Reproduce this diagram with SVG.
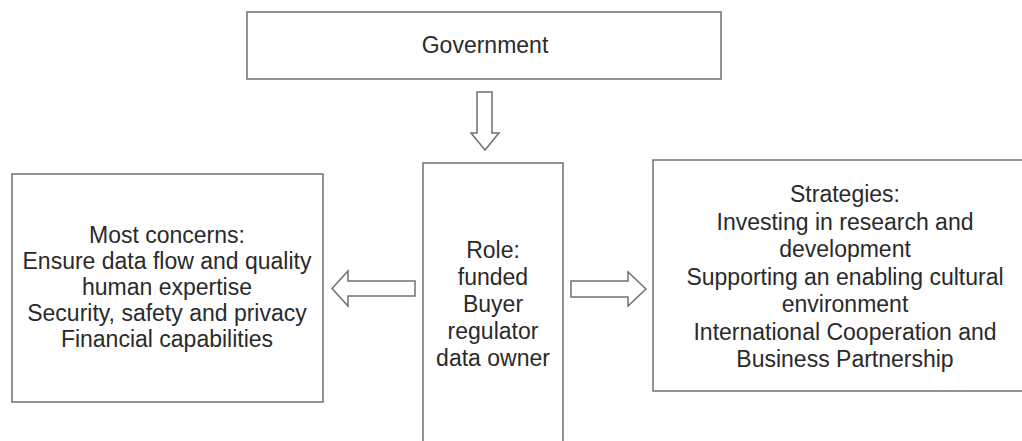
<svg xmlns="http://www.w3.org/2000/svg" width="1022" height="441" viewBox="0 0 1022 441">
<style>
.box{fill:#fff;stroke:#707070;stroke-width:1.5}
.arr{fill:#fff;stroke:#707070;stroke-width:1.5;stroke-linejoin:miter}
.t{font-family:"Liberation Sans",Arial,sans-serif;font-size:23px;fill:#2a2a2a;text-anchor:middle}
</style>
<rect width="1022" height="441" fill="#fff"/>
<g id="government">
<rect class="box" x="247" y="12" width="474" height="67"/>
<text class="t" x="485" y="53">Government</text>
</g>
<g id="concerns">
<rect class="box" x="12" y="174" width="311" height="228"/>
<text class="t" x="167" y="243">Most concerns:</text>
<text class="t" x="167" y="269">Ensure data flow and quality</text>
<text class="t" x="167" y="295">human expertise</text>
<text class="t" x="167" y="321">Security, safety and privacy</text>
<text class="t" x="167" y="347">Financial capabilities</text>
</g>
<g id="role">
<rect class="box" x="423" y="163" width="140" height="290"/>
<text class="t" x="493" y="258">Role:</text>
<text class="t" x="493" y="285">funded</text>
<text class="t" x="493" y="312">Buyer</text>
<text class="t" x="493" y="339">regulator</text>
<text class="t" x="493" y="366">data owner</text>
</g>
<g id="strategies">
<rect class="box" x="653" y="160" width="380" height="231"/>
<text class="t" x="845" y="202">Strategies:</text>
<text class="t" x="845" y="229.5">Investing in research and</text>
<text class="t" x="845" y="257">development</text>
<text class="t" x="845" y="284.5">Supporting an enabling cultural</text>
<text class="t" x="845" y="312">environment</text>
<text class="t" x="845" y="339.5">International Cooperation and</text>
<text class="t" x="845" y="367">Business Partnership</text>
</g>
<g id="connectors">
<polygon class="arr" points="477,92 492,92 492,133 499,133 485,150 471,133 477,133"/>
<polygon class="arr" points="415,281 348,281 348,271 332,288.5 348,306 348,296 415,296"/>
<polygon class="arr" points="571,281 628,281 628,272 646,289 628,306 628,297 571,297"/>
</g>
</svg>
